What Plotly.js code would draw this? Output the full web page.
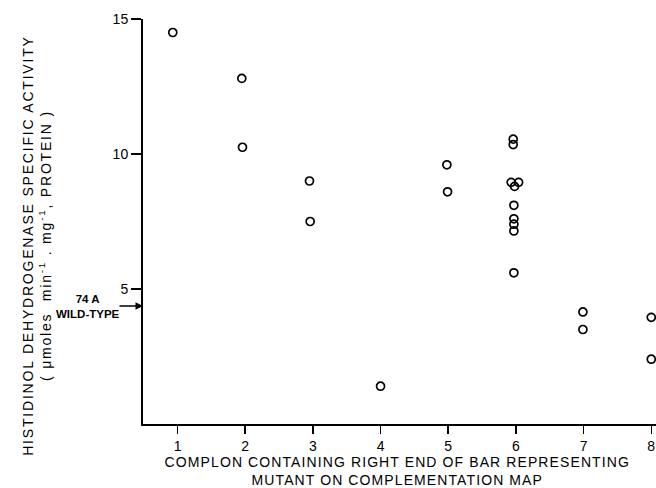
<!DOCTYPE html>
<html>
<head>
<meta charset="utf-8">
<script src="https://cdn.plot.ly/plotly-3.0.1.min.js"></script>
<style>
  html, body { margin: 0; padding: 0; background: #fff; }
  #chart { width: 656px; height: 488px; }
</style>
</head>
<body>
<div id="chart"></div>
<script>
// Complon position (as plotted, with the small visual spread of the original)
const complon = [0.93, 1.95, 1.96, 2.95, 2.96, 4.0, 4.98, 4.99,
                 5.96, 5.96, 5.93, 6.04, 5.98, 5.97, 5.97, 5.97, 5.97, 5.97,
                 6.99, 6.99, 8.0, 8.0];
// Histidinol dehydrogenase specific activity
const activity = [14.5, 12.8, 10.25, 9.0, 7.5, 1.4, 9.6, 8.6,
                  10.55, 10.35, 8.95, 8.95, 8.8, 8.1, 7.6, 7.4, 7.15, 5.6,
                  4.15, 3.5, 3.95, 2.4];
const xTickVals = [1, 2, 3, 4, 5, 6, 7, 8];
const xTickText = ['1', '2', '3', '4', '5', '6', '7', '8'];
const yTickVals = [5, 10, 15];
const yTickText = ['5', '10', '15'];
const wildType = 4.37;

const font = 'Liberation Sans, Arial, Helvetica, sans-serif';

const trace = {
  x: complon,
  y: activity,
  type: 'scatter',
  mode: 'markers',
  marker: { symbol: 'circle-open', size: 8, color: '#000', line: { width: 1.7, color: '#000' } },
  cliponaxis: false,
  hoverinfo: 'skip'
};

const layout = {
  width: 656, height: 488,
  margin: { l: 143, r: 0, t: 19, b: 64, pad: 0 },
  paper_bgcolor: '#fff', plot_bgcolor: '#fff',
  showlegend: false,
  font: { family: font, color: '#000', size: 13 },
  xaxis: {
    range: [0.49, 8.07],
    showgrid: false, zeroline: false,
    showline: true, linecolor: '#000', linewidth: 2,
    ticks: 'outside', ticklen: 8, tickwidth: 1.5, tickcolor: '#000',
    tickvals: xTickVals, ticktext: xTickText,
    tickfont: { family: font, size: 14, color: '#000' },
    fixedrange: true
  },
  yaxis: {
    range: [0, 15],
    showgrid: false, zeroline: false,
    showline: true, linecolor: '#000', linewidth: 2,
    ticks: 'outside', ticklen: 10, tickwidth: 1.5, tickcolor: '#000',
    tickvals: yTickVals, ticktext: yTickText,
    tickfont: { family: font, size: 14, color: '#000' },
    fixedrange: true
  },
  annotations: [
    {
      xref: 'paper', yref: 'paper', x: -0.2066, y: 0.442,
      xanchor: 'center', yanchor: 'middle', textangle: -90,
      text: 'HISTIDINOL DEHYDROGENASE SPECIFIC ACTIVITY<br>( μmoles  min<sup>-1</sup> . mg<sup>-1</sup>, PROTEIN )',
      showarrow: false, font: { family: font, size: 14, color: '#000' }
    },
    {
      xref: 'paper', yref: 'paper', x: 0.497, y: -0.116,
      xanchor: 'center', yanchor: 'middle',
      text: 'COMPLON CONTAINING RIGHT END OF BAR REPRESENTING<br>MUTANT ON COMPLEMENTATION MAP',
      showarrow: false, font: { family: font, size: 14, color: '#000' }
    },
    {
      xref: 'paper', yref: 'y', x: -0.107, y: wildType,
      xanchor: 'center', yanchor: 'middle',
      text: '<b>74 A</b><br><b>WILD-TYPE</b>',
      showarrow: false, font: { family: font, size: 11.5, color: '#000' }
    },
    {
      xref: 'paper', yref: 'y', x: 0, y: wildType,
      text: '', showarrow: true, ax: -25, ay: 0,
      arrowhead: 2, arrowsize: 1, arrowwidth: 1.5, arrowcolor: '#000', standoff: 0
    }
  ]
};

// extra letter spacing for the wide lettering of the original
const spacing = ['1.8px', '1.1px', null, null];

Plotly.newPlot('chart', [trace], layout, { displayModeBar: false, staticPlot: true }).then(function () {
  const anns = document.querySelectorAll('#chart .annotation');
  anns.forEach(function (a, i) {
    const t = a.querySelector('text');
    if (t && spacing[i]) t.style.letterSpacing = spacing[i];
  });
});
</script>
</body>
</html>
